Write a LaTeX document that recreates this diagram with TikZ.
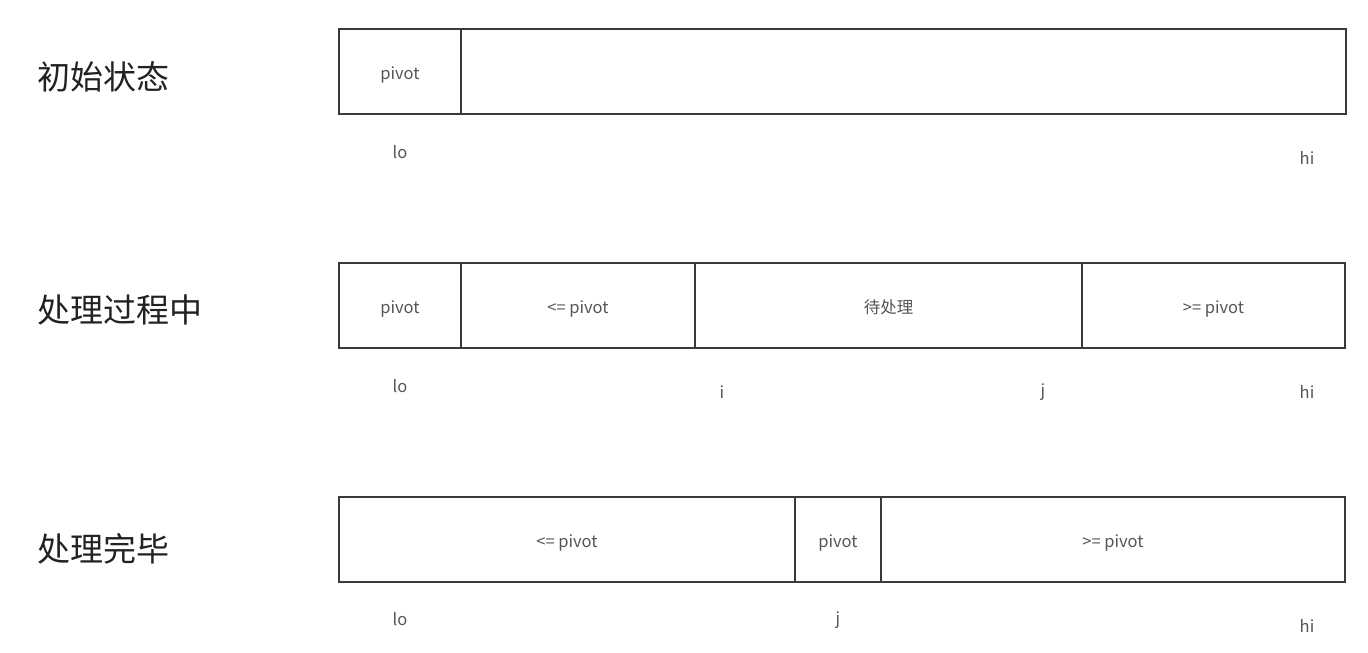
\documentclass[tikz,border=0pt]{standalone}
\usepackage{fontspec}
\setmainfont{Noto Sans CJK SC}
\definecolor{boxline}{HTML}{3A3A3A}
\definecolor{celltext}{HTML}{555555}
\definecolor{headtext}{HTML}{222222}
\newcommand{\celltxt}[1]{\raisebox{-8pt}[0pt][0pt]{#1}}
\begin{document}
\begin{tikzpicture}[x=1pt,y=-1pt,
  cell/.style={draw=boxline,line width=2.2pt,rectangle,inner sep=0pt,minimum height=85pt,
    text=celltext,font=\fontsize{16.5}{19}\selectfont},
  idx/.style={text=celltext,font=\fontsize{16.5}{19}\selectfont,inner sep=0pt},
  head/.style={text=headtext,font=\fontsize{33}{38}\selectfont,inner sep=0pt,anchor=west}]
\useasboundingbox (0,0) rectangle (1368,653);
% row 1
\node[head] (h1) at (37,77) {初始状态};
\node[cell,minimum width=122pt] (a1) at (400,71.5) {\celltxt{pivot}};
\node[cell,minimum width=885pt] (a2) at (903.5,71.5) {};
\node[idx] (a1lo) at (400,152) {lo};
\node[idx] (a1hi) at (1307,158) {hi};
% row 2
\node[head] (h2) at (37,310) {处理过程中};
\node[cell,minimum width=122pt] (b1) at (400,305.5) {\celltxt{pivot}};
\node[cell,minimum width=234pt] (b2) at (578,305.5) {\celltxt{<= pivot}};
\node[cell,minimum width=387pt] (b3) at (888.5,305.5) {\celltxt{待处理}};
\node[cell,minimum width=263pt] (b4) at (1213.5,305.5) {\celltxt{>= pivot}};
\node[idx] (b1lo) at (400,386) {lo};
\node[idx] (b1i) at (722,392) {i};
\node[idx] (b1j) at (1043,392) {j};
\node[idx] (b1hi) at (1307,392) {hi};
% row 3
\node[head] (h3) at (37,549) {处理完毕};
\node[cell,minimum width=456pt] (c1) at (567,539.5) {\celltxt{<= pivot}};
\node[cell,minimum width=86pt] (c2) at (838,539.5) {\celltxt{pivot}};
\node[cell,minimum width=464pt] (c3) at (1113,539.5) {\celltxt{>= pivot}};
\node[idx] (c1lo) at (400,619) {lo};
\node[idx] (c1j) at (838,620) {j};
\node[idx] (c1hi) at (1307,626) {hi};
\end{tikzpicture}
\end{document}
